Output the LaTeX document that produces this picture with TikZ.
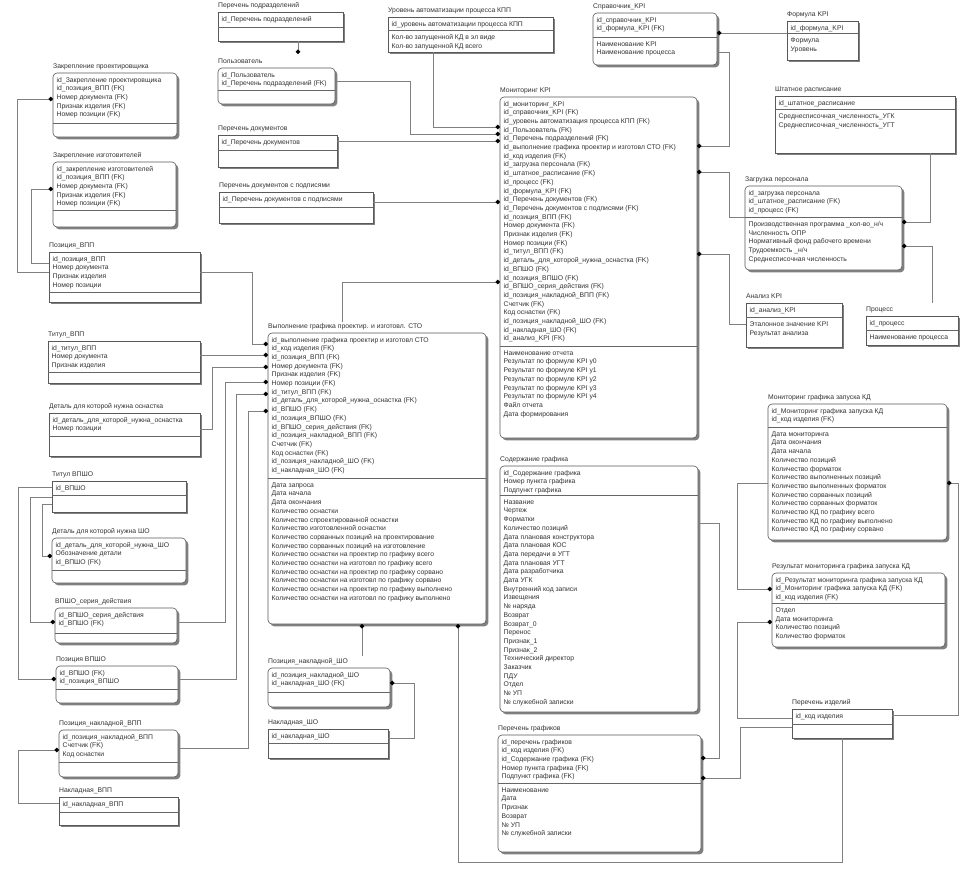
\documentclass[tikz,border=0pt]{standalone}
\usepackage{fontspec}
\setmainfont{Liberation Sans}
\usetikzlibrary{calc,shadows,arrows.meta}
\tikzset{
 erbase/.style={draw=black!65, line width=0.6pt, fill=white, inner sep=0pt, outer sep=0pt,
   drop shadow={shadow xshift=2.4pt, shadow yshift=-2.4pt, fill=black!50, opacity=1}},
 sq/.style={erbase},
 rd/.style={erbase, rounded corners=4pt},
 sepl/.style={draw=black!60, line width=0.5pt},
 ttl/.style={font=\fontsize{6.8}{8.7}\selectfont, text=black!80, inner sep=0pt, anchor=base west},
 rows/.style={font=\fontsize{6.8}{8.7}\selectfont, text=black!80, inner sep=0pt, align=left, anchor=north west},
 rel/.style={draw=black!50, line width=0.6pt},
 dotend/.style={-{Circle[length=4.4pt,color=black]}},
 dotstart/.style={{Circle[length=4.4pt,color=black]}-},
}
\newcommand\erbox[7]{%
  \node[#2, minimum width={#5-#3}, minimum height={#7-#4}, anchor=north west] (#1) at (#3,#4) {};
  \coordinate (#1-s) at (#3,#6);
  \draw[sepl] (#3,#6) -- (#5,#6);
}
\newcommand\ertext[4]{%
  \node[ttl] (#1-t) at ($(#1.north west)+(0,-4.7)$) {#2};
  \node[rows] (#1-k) at ($(#1.north west)+(3.5,3.9)$) {#3};
  \node[rows] (#1-a) at ($(#1-s)+(3.5,4.4)$) {#4};
}
\begin{document}
\begin{tikzpicture}[x=1pt,y=-1pt]
\fill[white] (0,0) rectangle (975,881);
\useasboundingbox (0,0) rectangle (975,881);

% ---------- boxes ----------
\erbox{pp}{sq}{218}{12}{343}{27}{41}
\erbox{pol}{rd}{218}{68}{335}{90}{104}
\erbox{pdoc}{sq}{218}{135}{337}{150}{167}
\erbox{pdocs}{sq}{219}{192}{373}{207}{223}
\erbox{ur}{sq}{388}{17}{553}{30}{52}
\erbox{spr}{rd}{593}{13}{717}{37}{65}
\erbox{form}{sq}{787}{21}{858}{33}{60}
\erbox{sht}{sq}{775}{96}{955}{109}{153}
\erbox{zag}{rd}{745}{186}{902}{217}{270}
\erbox{an}{sq}{746}{303}{842}{317}{347}
\erbox{proc}{sq}{866}{316}{958}{330}{345}
\erbox{mon}{rd}{500}{97}{697}{346}{438}
\erbox{mkd}{rd}{768}{404}{947}{427}{540}
\erbox{rez}{rd}{772}{573}{945}{603}{647}
\erbox{piz}{sq}{792}{709}{892}{724}{738}
\erbox{sod}{rd}{500}{466}{698}{495}{712}
\erbox{pgr}{rd}{498}{735}{701}{783}{852}
\erbox{vyp}{rd}{268}{333}{486}{478}{624}
\erbox{pnsho}{rd}{268}{668}{390}{692}{707}
\erbox{nsho}{sq}{268}{729}{388}{743}{758}
\erbox{zpr}{rd}{53}{73}{177}{123}{137}
\erbox{ziz}{rd}{53}{162}{176}{210}{227}
\erbox{pvpp}{sq}{49}{252}{200}{292}{302}
\erbox{tvpp}{sq}{48}{341}{200}{372}{383}
\erbox{det}{sq}{49}{413}{200}{436}{456}
\erbox{tvpsho}{sq}{52}{481}{186}{495}{512}
\erbox{detsho}{rd}{52}{538}{186}{570}{583}
\erbox{vpsho}{rd}{55}{608}{177}{633}{643}
\erbox{pvpsho}{rd}{56}{666}{178}{689}{703}
\erbox{pnvpp}{rd}{59}{730}{178}{762}{777}
\erbox{nvpp}{sq}{59}{797}{178}{812}{825}

% ---------- texts ----------
\ertext{pp}{Перечень подразделений}{id\_Перечень подразделений}{}
\ertext{pol}{Пользователь}{id\_Пользователь\\id\_Перечень подразделений (FK)}{}
\ertext{pdoc}{Перечень документов}{id\_Перечень документов}{}
\ertext{pdocs}{Перечень документов с подписями}{id\_Перечень документов с подписями}{}
\ertext{ur}{Уровень автоматизации процесса КПП}{id\_уровень автоматизации процесса КПП}{Кол-во запущенной КД в эл виде\\Кол-во запущенной КД всего}
\ertext{spr}{Справочник\_KPI}{id\_справочник\_KPI\\id\_формула\_KPI (FK)}{Наименование KPI\\Наименование процесса}
\ertext{form}{Формула KPI}{id\_формула\_KPI}{Формула\\Уровень}
\ertext{sht}{Штатное расписание}{id\_штатное\_расписание}{Среднесписочная\_численность\_УГК\\Среднесписочная\_численность\_УГТ}
\ertext{zag}{Загрузка персонала}{id\_загрузка персонала\\id\_штатное\_расписание (FK)\\id\_процесс (FK)}{Производственная программа \_кол-во\_н/ч\\Численность ОПР\\Нормативный фонд рабочего времени\\Трудоемкость \_н/ч\\Среднесписочная численность}
\ertext{an}{Анализ KPI}{id\_анализ\_KPI}{Эталонное значение KPI\\Результат анализа}
\ertext{proc}{Процесс}{id\_процесс}{Наименование процесса}
\ertext{mon}{Мониторинг KPI}{id\_мониторинг\_KPI\\id\_справочник\_KPI (FK)\\id\_уровень автоматизация процесса КПП (FK)\\id\_Пользователь (FK)\\id\_Перечень подразделений (FK)\\id\_выполнение графика проектир и изготовл СТО (FK)\\id\_код изделия (FK)\\id\_загрузка персонала (FK)\\id\_штатное\_расписание (FK)\\id\_процесс (FK)\\id\_формула\_KPI (FK)\\id\_Перечень документов (FK)\\id\_Перечень документов с подписями (FK)\\id\_позиция\_ВПП (FK)\\Номер документа (FK)\\Признак изделия (FK)\\Номер позиции (FK)\\id\_титул\_ВПП (FK)\\id\_деталь\_для\_которой\_нужна\_оснастка (FK)\\id\_ВПШО (FK)\\id\_позиция\_ВПШО (FK)\\id\_ВПШО\_серия\_действия (FK)\\id\_позиция\_накладной\_ВПП (FK)\\Счетчик (FK)\\Код оснастки (FK)\\id\_позиция\_накладной\_ШО (FK)\\id\_накладная\_ШО (FK)\\id\_анализ\_KPI (FK)}{Наименование отчета\\Результат по формуле KPI y0\\Результат по формуле KPI y1\\Результат по формуле KPI y2\\Результат по формуле KPI y3\\Результат по формуле KPI y4\\Файл отчета\\Дата формирования}
\ertext{mkd}{Мониторинг графика запуска КД}{id\_Мониторинг графика запуска КД\\id\_код изделия (FK)}{Дата мониторинга\\Дата окончания\\Дата начала\\Количество позиций\\Количество форматок\\Количество выполненных позиций\\Количество выполненных форматок\\Количество сорванных позиций\\Количество сорванных форматок\\Количество КД по графику всего\\Количество КД по графику выполнено\\Количество КД по графику сорвано}
\ertext{rez}{Результат мониторинга графика запуска КД}{id\_Результат мониторинга графика запуска КД\\id\_Мониторинг графика запуска КД (FK)\\id\_код изделия (FK)}{Отдел\\Дата мониторинга\\Количество позиций\\Количество форматок}
\ertext{piz}{Перечень изделий}{id\_код изделия}{}
\ertext{sod}{Содержание графика}{id\_Содержание графика\\Номер пункта графика\\Подпункт графика}{Название\\Чертеж\\Форматки\\Количество позиций\\Дата плановая конструктора\\Дата плановая КОС\\Дата передачи в УГТ\\Дата плановая УГТ\\Дата разработчика\\Дата УГК\\Внутренний код записи\\Извещения\\№ наряда\\Возврат\\Возврат\_0\\Перенос\\Признак\_1\\Признак\_2\\Технический директор\\Заказчик\\ПДУ\\Отдел\\№ УП\\№ служебной записки}
\ertext{pgr}{Перечень графиков}{id\_перечень графиков\\id\_код изделия (FK)\\id\_Содержание графика (FK)\\Номер пункта графика (FK)\\Подпункт графика (FK)}{Наименование\\Дата\\Признак\\Возврат\\№ УП\\№ служебной записки}
\ertext{vyp}{Выполнение графика проектир. и изготовл. СТО}{id\_выполнение графика проектир и изготовл СТО\\id\_код изделия (FK)\\id\_позиция\_ВПП (FK)\\Номер документа (FK)\\Признак изделия (FK)\\Номер позиции (FK)\\id\_титул\_ВПП (FK)\\id\_деталь\_для\_которой\_нужна\_оснастка (FK)\\id\_ВПШО (FK)\\id\_позиция\_ВПШО (FK)\\id\_ВПШО\_серия\_действия (FK)\\id\_позиция\_накладной\_ВПП (FK)\\Счетчик (FK)\\Код оснастки (FK)\\id\_позиция\_накладной\_ШО (FK)\\id\_накладная\_ШО (FK)}{Дата запроса\\Дата начала\\Дата окончания\\Количество оснастки\\Количество спроектированной оснастки\\Количество изготовленной оснастки\\Количество сорванных позиций на проектирование\\Количество сорванных позиций на изготовление\\Количество оснастки на проектир по графику всего\\Количество оснастки на изготовл по графику всего\\Количество оснастки на проектир по графику сорвано\\Количество оснастки на изготовл по графику сорвано\\Количество оснастки на проектир по графику выполнено\\Количество оснастки на изготовл по графику выполнено}
\ertext{pnsho}{Позиция\_накладной\_ШО}{id\_позиция\_накладной\_ШО\\id\_накладная\_ШО (FK)}{}
\ertext{nsho}{Накладная\_ШО}{id\_накладная\_ШО}{}
\ertext{zpr}{Закрепление проектировщика}{id\_Закрепление проектировщика\\id\_позиция\_ВПП (FK)\\Номер документа (FK)\\Признак изделия (FK)\\Номер позиции (FK)}{}
\ertext{ziz}{Закрепление изготовителей}{id\_закрепление изготовителей\\id\_позиция\_ВПП (FK)\\Номер документа (FK)\\Признак изделия (FK)\\Номер позиции (FK)}{}
\ertext{pvpp}{Позиция\_ВПП}{id\_позиция\_ВПП\\Номер документа\\Признак изделия\\Номер позиции}{}
\ertext{tvpp}{Титул\_ВПП}{id\_титул\_ВПП\\Номер документа\\Признак изделия}{}
\ertext{det}{Деталь для которой нужна оснастка}{id\_деталь\_для\_которой\_нужна\_оснастка\\Номер позиции}{}
\ertext{tvpsho}{Титул ВПШО}{id\_ВПШО}{}
\ertext{detsho}{Деталь для которой нужна ШО}{id\_деталь\_для\_которой\_нужна\_ШО\\Обозначение детали\\id\_ВПШО (FK)}{}
\ertext{vpsho}{ВПШО\_серия\_действия}{id\_ВПШО\_серия\_действия\\id\_ВПШО (FK)}{}
\ertext{pvpsho}{Позиция ВПШО}{id\_ВПШО (FK)\\id\_позиция\_ВПШО}{}
\ertext{pnvpp}{Позиция\_накладной\_ВПП}{id\_позиция\_накладной\_ВПП\\Счетчик (FK)\\Код оснастки}{}
\ertext{nvpp}{Накладная\_ВПП}{id\_накладная\_ВПП}{}

% ---------- connectors ----------
\coordinate (polc) at (298,54);
\draw[rel,dotend] (pp.south -| polc) -- (polc);
\draw[rel,dotend] (pol.east |- 0,81) -- (410,81) -- (410,134) -- (mon.west |- 0,134);
\draw[rel,dotend] (ur.south -| 433,0) -- (433,127) -- (mon.west |- 0,127);
\draw[rel,dotend] (pdoc.east |- 0,141) -- (mon.west |- 0,141);
\draw[rel,dotend] (pdocs.east |- 0,202) -- (mon.west |- 0,202);
\coordinate (vypc) at (342,322);
\draw[rel,dotend] (vypc) -- (342,282) -- (mon.west |- 0,282);
\draw[rel,dotstart] (spr.east |- 0,33) -- (form.west |- 0,33);
\draw[rel,dotend] (spr.east |- 0,52) -- (729,52) -- (729,146) -- (mon.east |- 0,146);
\draw[rel,dotend] (zag.west |- 0,217) -- (729,217) -- (729,172) -- (mon.east |- 0,172);
\draw[rel,dotend] (sht.south -| 930,0) -- (930,222) -- (zag.east |- 0,222);
\coordinate (procc) at (932,303);
\draw[rel,dotend] (procc) -- (932,246) -- (zag.east |- 0,246);
\draw[rel,dotend] (an.west |- 0,324) -- (729,324) -- (729,254) -- (mon.east |- 0,254);
\draw[rel,dotend] (mkd.west |- 0,483) -- (737,483) -- (737,589) -- (rez.west |- 0,589);
\draw[rel,dotend] (piz.west |- 0,718) -- (737,718) -- (737,622) -- (rez.west |- 0,622);
\draw[rel,dotend] (piz.east |- 0,715) -- (958,715) -- (958,483) -- (mkd.east |- 0,483);
\draw[rel,dotend] (piz.west |- 0,727) -- (740,727) -- (740,778) -- (pgr.east |- 0,778);
\draw[rel,dotend] (sod.east |- 0,523) -- (719,523) -- (719,758) -- (pgr.east |- 0,758);
\draw[rel,dotend] (piz.south -| 842,0) -- (842,862) -- (458,862) -- (vyp.south -| 458,0);
\coordinate (pnshoc) at (362,656);
\draw[rel,dotend] (pnshoc) -- (vyp.south -| pnshoc);
\draw[rel,dotend] (nsho.east |- 0,738) -- (414,738) -- (414,683) -- (pnsho.east |- 0,683);
\draw[rel,dotend] (pvpp.east |- 0,272) -- (252,272) -- (252,344) -- (vyp.west |- 0,344);
\draw[rel,dotend] (tvpp.east |- 0,355) -- (vyp.west |- 0,355);
\draw[rel,dotend] (det.east |- 0,429) -- (212,429) -- (212,367) -- (vyp.west |- 0,367);
\draw[rel,dotend] (vpsho.east |- 0,622) -- (225,622) -- (225,382) -- (vyp.west |- 0,382);
\draw[rel,dotend] (pvpsho.east |- 0,679) -- (236,679) -- (236,394) -- (vyp.west |- 0,394);
\draw[rel,dotend] (pnvpp.east |- 0,748) -- (248,748) -- (248,411) -- (vyp.west |- 0,411);
\draw[rel,dotend] (pvpp.west |- 0,272) -- (17,272) -- (17,99) -- (zpr.west |- 0,99);
\draw[rel,dotend] (pvpp.west |- 0,263) -- (31,263) -- (31,189) -- (ziz.west |- 0,189);
\draw[rel,dotend] (tvpsho.west |- 0,487) -- (18,487) -- (18,679) -- (pvpsho.west |- 0,679);
\draw[rel,dotend] (tvpsho.west |- 0,497) -- (30,497) -- (30,622) -- (vpsho.west |- 0,622);
\draw[rel,dotend] (tvpsho.west |- 0,504) -- (42,504) -- (42,556) -- (detsho.west |- 0,556);
\draw[rel,dotend] (nvpp.west |- 0,803) -- (18,803) -- (18,750) -- (pnvpp.west |- 0,750);
\end{tikzpicture}
\end{document}
